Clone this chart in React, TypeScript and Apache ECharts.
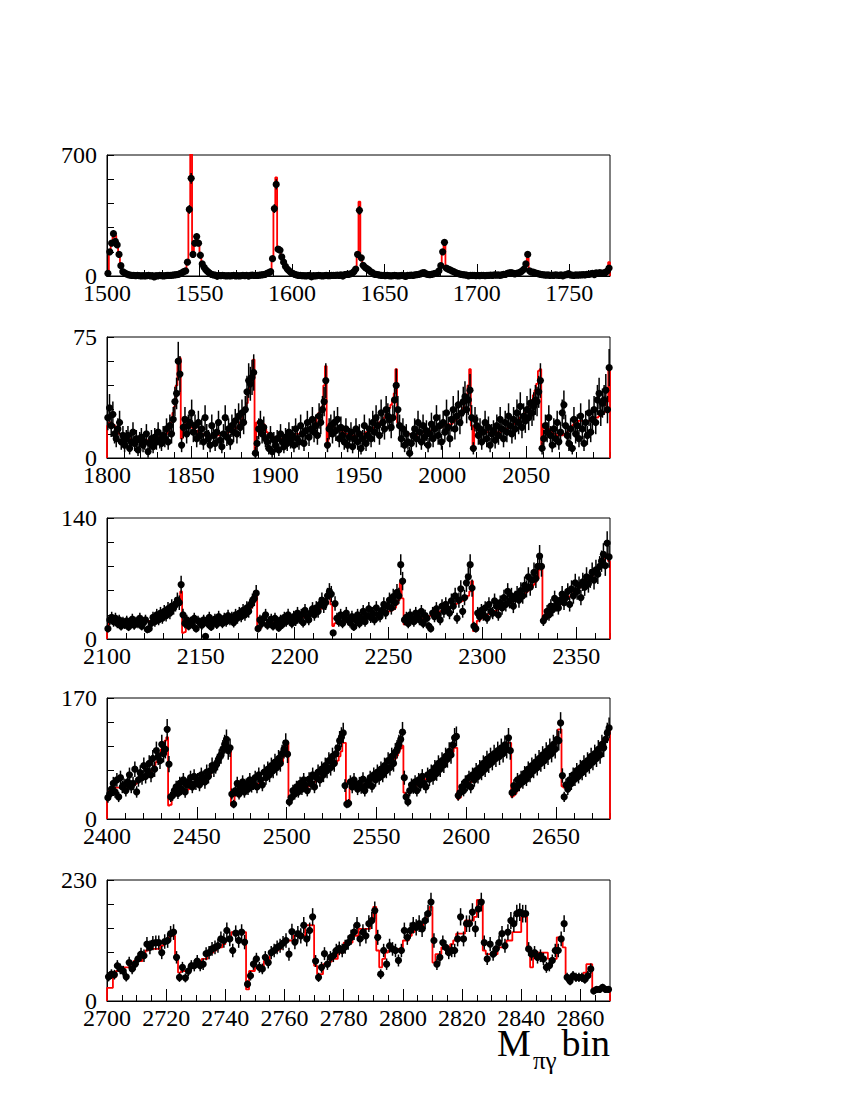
import React, { useEffect, useRef } from "react";
import * as echarts from "echarts";

// ---------- Panel 1: bins 1500..1771 ----------
const p1Data = [
  15, 140, 190, 245, 200, 180, 125, 60, 30, 18,
  12, 8, 5, 4, 3, 2, 3, 2, 1, 2,
  1, 2, 3, 1, 2, 0, 2, 1, 3, 2,
  1, 2, 3, 4, 3, 5, 6, 8, 10, 14,
  18, 25, 35, 80, 385, 565, 125, 190, 228, 190,
  120, 70, 50, 35, 25, 16, 10, 7, 5, 4,
  3, 2, 3, 2, 1, 2, 1, 2, 3, 1,
  2, 1, 2, 3, 2, 3, 4, 3, 5, 4,
  3, 4, 5, 6, 8, 10, 15, 20, 25, 100,
  390, 530, 155, 155, 110, 80, 55, 40, 30, 20,
  15, 10, 6, 4, 3, 2, 2, 1, 2, 3,
  1, 2, 1, 2, 3, 2, 1, 2, 3, 2,
  2, 3, 4, 3, 5, 4, 6, 5, 8, 10,
  10, 12, 15, 25, 40, 125, 380, 105, 62, 50,
  42, 35, 25, 20, 15, 10, 8, 5, 4, 3,
  2, 3, 2, 1, 2, 3, 2, 1, 2, 3,
  2, 3, 4, 3, 5, 4, 6, 8, 10, 12,
  18, 20, 12, 10, 8, 10, 12, 15, 20, 30,
  60, 140, 195, 45, 40, 35, 30, 25, 20, 15,
  12, 10, 8, 6, 5, 4, 3, 4, 3, 2,
  3, 2, 4, 3, 2, 3, 4, 5, 4, 6,
  5, 6, 8, 7, 9, 10, 15, 18, 20, 16,
  12, 15, 18, 22, 30, 40, 70, 125, 30, 25,
  22, 18, 15, 12, 10, 8, 6, 5, 6, 4,
  5, 4, 6, 5, 4, 6, 5, 7, 8, 14,
  6, 5, 4, 6, 5, 7, 6, 8, 7, 9,
  10, 12, 15, 12, 18, 15, 20, 15, 18, 20,
  28, 46,
];
const p1Fit = [
  30, 130, 190, 225, 235, 200, 130, 60, 30, 15,
  8, 5, 3, 2, 2, 2, 2, 2, 2, 2,
  2, 2, 2, 2, 2, 2, 2, 2, 2, 2,
  2, 2, 3, 3, 3, 4, 5, 7, 9, 12,
  16, 22, 32, 80, 400, 760, 110, 200, 215, 200,
  120, 75, 50, 35, 25, 18, 12, 8, 5, 4,
  3, 2, 2, 2, 2, 2, 2, 2, 2, 2,
  2, 2, 2, 2, 3, 3, 3, 4, 4, 4,
  4, 4, 5, 6, 7, 9, 12, 16, 22, 100,
  400, 570, 150, 150, 110, 80, 55, 40, 28, 20,
  14, 10, 6, 4, 3, 2, 2, 2, 2, 2,
  2, 2, 2, 2, 2, 2, 2, 2, 2, 2,
  2, 3, 3, 3, 4, 4, 5, 6, 7, 8,
  10, 12, 15, 22, 40, 110, 430, 110, 65, 50,
  40, 30, 22, 15, 10, 7, 5, 4, 3, 2,
  2, 2, 2, 2, 2, 2, 2, 2, 2, 2,
  2, 3, 3, 3, 4, 4, 5, 6, 8, 10,
  14, 16, 12, 10, 9, 10, 11, 14, 18, 28,
  60, 140, 185, 45, 40, 34, 28, 22, 18, 14,
  11, 9, 7, 5, 4, 3, 3, 3, 3, 3,
  3, 3, 3, 3, 3, 3, 4, 4, 5, 5,
  6, 6, 7, 8, 9, 10, 13, 15, 17, 15,
  13, 15, 18, 22, 30, 40, 70, 105, 30, 24,
  20, 16, 13, 10, 8, 7, 6, 5, 5, 5,
  5, 5, 5, 5, 5, 5, 5, 6, 6, 7,
  6, 6, 6, 6, 6, 7, 7, 7, 8, 8,
  9, 10, 11, 12, 13, 14, 15, 16, 17, 20,
  40, 80,
];

// ---------- Panel 2: bins 1800..2099 ----------
const p2Data = [
  25, 31, 20, 27, 15, 12, 18, 22, 10, 14,
  8, 12, 14, 6, 10, 16, 9, 12, 5, 11,
  13, 8, 10, 15, 4, 9, 12, 7, 13, 10,
  16, 11, 9, 14, 12, 18, 10, 20, 15, 24,
  35, 40, 60, 52, 8, 19, 24, 15, 20, 22,
  28, 16, 20, 12, 22, 14, 18, 10, 25, 15,
  12, 8, 20, 14, 9, 16, 22, 11, 7, 15,
  25, 13, 18, 10, 20, 16, 23, 15, 26, 19,
  28, 22, 30, 41, 48, 46, 50, 53, 3, 9,
  18, 22, 15, 19, 12, 10, 6, 14, 4, 11,
  8, 12, 5, 15, 10, 7, 13, 9, 16, 11,
  14, 8, 18, 12, 10, 20, 15, 9, 17, 22,
  13, 18, 24, 16, 20, 14, 26, 22, 30, 35,
  48, 8, 18, 20, 15, 22, 17, 24, 12, 19,
  14, 10, 18, 8, 13, 16, 7, 12, 18, 10,
  15, 6, 12, 20, 9, 14, 18, 12, 22, 16,
  25, 20, 14, 28, 22, 18, 30, 26, 24, 19,
  25, 36, 45, 30, 20, 12, 18, 8, 15, 10,
  3, 9, 14, 18, 12, 22, 16, 10, 20, 13,
  17, 8, 15, 21, 12, 18, 25, 14, 20, 10,
  22, 16, 28, 19, 12, 24, 30, 18, 26, 33,
  22, 28, 35, 38, 30, 36, 42, 25, 6, 24,
  20, 14, 18, 10, 16, 22, 12, 19, 8, 15,
  17, 11, 20, 14, 24, 18, 12, 22, 16, 26,
  20, 15, 24, 18, 28, 22, 32, 19, 26, 23,
  30, 25, 34, 28, 32, 36, 35, 41, 48, 6,
  12, 20, 16, 25, 14, 8, 18, 12, 22, 10,
  16, 28, 33, 20, 14, 9, 18, 6, 24, 15,
  20, 12, 26, 18, 9, 22, 14, 28, 16, 24,
  30, 22, 36, 40, 28, 34, 36, 42, 30, 56,
];
const p2Fit = [
  20, 22, 22, 21, 20, 18, 17, 15, 14, 13,
  12, 12, 12, 12, 11, 11, 10, 10, 10, 11,
  11, 11, 10, 10, 11, 11, 12, 12, 12, 12,
  13, 13, 13, 14, 14, 15, 16, 18, 22, 28,
  32, 45, 60, 62, 12, 20, 22, 22, 20, 20,
  19, 18, 17, 17, 16, 16, 15, 15, 14, 14,
  14, 13, 13, 13, 13, 14, 14, 14, 15, 15,
  15, 15, 16, 16, 17, 17, 18, 19, 20, 22,
  24, 27, 30, 34, 40, 46, 53, 61, 5, 22,
  23, 23, 22, 21, 18, 16, 15, 14, 13, 13,
  12, 12, 12, 12, 12, 12, 13, 13, 13, 14,
  14, 14, 15, 15, 15, 16, 16, 16, 17, 17,
  17, 18, 19, 20, 22, 25, 28, 30, 32, 45,
  57, 10, 20, 20, 19, 19, 18, 18, 17, 17,
  16, 16, 15, 15, 15, 15, 14, 14, 14, 14,
  15, 15, 15, 15, 16, 16, 17, 17, 18, 19,
  20, 21, 22, 23, 24, 25, 27, 29, 31, 33,
  36, 40, 55, 22, 20, 18, 17, 16, 16, 15,
  15, 15, 14, 14, 14, 15, 15, 15, 16, 16,
  16, 17, 17, 17, 18, 18, 18, 19, 19, 19,
  20, 20, 20, 21, 21, 21, 22, 23, 24, 25,
  27, 29, 31, 34, 38, 45, 55, 20, 8, 20,
  19, 18, 18, 17, 17, 16, 16, 16, 15, 15,
  15, 15, 16, 16, 16, 17, 17, 18, 18, 19,
  20, 20, 21, 22, 23, 24, 25, 26, 27, 28,
  30, 32, 34, 36, 39, 42, 46, 54, 55, 6,
  21, 21, 20, 18, 17, 16, 15, 15, 14, 14,
  14, 14, 15, 15, 16, 17, 18, 20, 21, 22,
  22, 23, 23, 23, 22, 22, 23, 23, 24, 24,
  25, 25, 25, 26, 26, 27, 28, 30, 35, 57,
];

// ---------- Panel 3: bins 2100..2367 ----------
const p3Data = [
  12, 22, 25, 20, 24, 18, 22, 15, 20, 17,
  21, 14, 19, 23, 16, 20, 18, 24, 15, 19,
  22, 11, 12, 18, 25, 20, 28, 22, 30, 24,
  32, 27, 35, 30, 38, 36, 40, 45, 42, 63,
  28, 18, 22, 15, 20, 17, 24, 12, 21, 19,
  16, 22, 3, 18, 25, 14, 20, 23, 17, 26,
  21, 18, 24, 20, 27, 22, 25, 19, 28, 24,
  30, 26, 33, 28, 36, 32, 40, 44, 47, 53,
  12, 22, 18, 24, 28, 16, 20, 23, 15, 24,
  19, 13, 22, 17, 25, 20, 28, 22, 18, 26,
  21, 30, 24, 28, 19, 33, 26, 22, 30, 35,
  28, 36, 32, 40, 45, 38, 42, 50, 55, 52,
  7, 41, 24, 20, 28, 18, 25, 30, 22, 19,
  26, 14, 22, 28, 18, 24, 32, 20, 27, 35,
  25, 30, 22, 36, 28, 26, 33, 40, 30, 38,
  45, 36, 49, 42, 54, 50, 86, 67, 22, 25,
  18, 28, 24, 20, 30, 26, 22, 32, 18, 27,
  24, 15, 12, 30, 26, 35, 28, 22, 38, 32,
  40, 35, 30, 44, 38, 50, 24, 45, 58, 32,
  48, 65, 72, 86, 59, 15, 12, 30, 26, 33,
  28, 36, 24, 40, 32, 30, 44, 38, 28, 42,
  36, 48, 40, 55, 44, 50, 38, 47, 52, 45,
  56, 50, 62, 58, 72, 60, 68, 77, 70, 84,
  96, 84, 21, 25, 32, 28, 38, 34, 47, 40,
  36, 45, 52, 42, 48, 55, 40, 58, 50, 65,
  55, 62, 48, 66, 60, 72, 64, 70, 77, 68,
  80, 75, 84, 90, 98, 85, 111, 95,
];
const p3Fit = [
  10, 22, 22, 21, 20, 19, 18, 18, 18, 17,
  17, 17, 17, 17, 18, 18, 18, 18, 19, 19,
  20, 20, 21, 21, 22, 22, 23, 24, 25, 26,
  28, 30, 32, 34, 36, 38, 40, 42, 45, 55,
  7, 8, 22, 22, 21, 21, 20, 20, 20, 19,
  19, 18, 18, 18, 18, 18, 19, 19, 19, 20,
  20, 20, 21, 21, 22, 22, 23, 24, 24, 25,
  26, 27, 28, 30, 31, 33, 35, 38, 45, 53,
  12, 12, 17, 18, 18, 18, 18, 19, 19, 19,
  20, 20, 20, 21, 21, 21, 22, 22, 22, 23,
  23, 24, 24, 25, 25, 26, 27, 27, 28, 29,
  30, 31, 32, 34, 36, 38, 42, 48, 57, 40,
  15, 18, 19, 19, 20, 20, 20, 20, 21, 21,
  21, 22, 22, 22, 23, 23, 24, 25, 25, 26,
  27, 28, 28, 29, 29, 30, 30, 31, 31, 32,
  32, 33, 34, 36, 40, 45, 65, 47, 17, 17,
  20, 21, 21, 22, 22, 23, 23, 24, 24, 25,
  26, 26, 27, 28, 29, 30, 31, 32, 33, 34,
  35, 36, 37, 38, 39, 40, 41, 42, 43, 44,
  45, 47, 50, 55, 67, 9, 9, 21, 22, 24,
  26, 27, 28, 29, 30, 31, 32, 33, 35, 36,
  37, 38, 40, 41, 42, 43, 44, 45, 46, 48,
  50, 51, 52, 54, 56, 58, 60, 63, 66, 70,
  80, 84, 21, 25, 28, 30, 32, 33, 35, 36,
  38, 40, 42, 44, 45, 47, 49, 51, 53, 55,
  57, 59, 61, 63, 65, 67, 69, 71, 73, 75,
  78, 80, 83, 86, 90, 95, 98, 90,
];

// ---------- Panel 4: bins 2400..2679 ----------
const p4Data = [
  30, 35, 42, 50, 38, 55, 31, 58, 45, 48,
  40, 52, 62, 45, 50, 70, 38, 55, 65, 58,
  75, 60, 68, 78, 62, 85, 70, 96, 88, 82,
  105, 92, 98, 126, 77, 31, 33, 40, 45, 36,
  50, 42, 55, 38, 48, 52, 58, 45, 60, 50,
  55, 48, 62, 58, 52, 66, 60, 68, 75, 70,
  75, 80, 86, 90, 98, 105, 112, 96, 100, 35,
  21, 40, 50, 35, 44, 52, 38, 48, 42, 55,
  46, 50, 58, 45, 62, 55, 48, 66, 58, 70,
  62, 75, 68, 80, 72, 85, 78, 92, 98, 107,
  91, 24, 30, 40, 35, 45, 38, 50, 42, 55,
  48, 40, 56, 50, 62, 45, 58, 66, 55, 70,
  62, 75, 68, 82, 72, 88, 78, 92, 100, 110,
  115, 121, 47, 21, 22, 52, 45, 55, 48, 42,
  50, 44, 56, 40, 48, 52, 58, 46, 62, 55,
  66, 58, 70, 62, 75, 68, 82, 72, 88, 78,
  94, 98, 105, 112, 122, 58, 31, 24, 40, 48,
  44, 52, 40, 55, 48, 60, 50, 45, 62, 56,
  66, 58, 72, 64, 78, 70, 82, 76, 88, 84,
  95, 90, 104, 114, 116, 33, 37, 45, 40, 52,
  48, 58, 45, 62, 55, 68, 60, 72, 65, 78,
  70, 84, 76, 88, 80, 92, 85, 96, 88, 100,
  92, 104, 98, 114, 96, 37, 47, 42, 55, 48,
  58, 52, 64, 56, 70, 62, 75, 68, 80, 72,
  85, 78, 90, 82, 95, 88, 100, 92, 105, 98,
  112, 110, 135, 61, 31, 48, 42, 55, 50, 62,
  56, 68, 60, 72, 65, 78, 70, 82, 75, 88,
  80, 92, 85, 98, 90, 105, 100, 112, 121, 128,
];
const p4Fit = [
  27, 40, 42, 43, 44, 44, 44, 45, 45, 45,
  45, 46, 46, 46, 47, 48, 50, 52, 54, 56,
  57, 58, 60, 63, 66, 70, 75, 80, 86, 92,
  98, 104, 110, 115, 19, 20, 33, 35, 36, 37,
  37, 38, 38, 39, 40, 42, 44, 45, 46, 47,
  48, 50, 52, 54, 56, 58, 60, 63, 66, 70,
  75, 80, 85, 90, 95, 98, 100, 102, 102, 19,
  20, 33, 35, 37, 38, 39, 40, 41, 42, 43,
  44, 45, 46, 48, 50, 52, 54, 56, 58, 60,
  62, 64, 66, 68, 70, 73, 76, 80, 88, 100,
  107, 30, 30, 37, 38, 39, 40, 41, 42, 43,
  44, 45, 46, 48, 50, 52, 54, 56, 58, 60,
  62, 64, 66, 68, 70, 72, 75, 78, 82, 88,
  95, 107, 107, 20, 25, 45, 46, 46, 47, 47,
  48, 48, 48, 49, 50, 51, 53, 55, 57, 59,
  61, 63, 65, 67, 69, 71, 73, 75, 78, 81,
  85, 89, 94, 99, 103, 37, 33, 33, 42, 44,
  45, 46, 47, 48, 50, 52, 54, 56, 58, 60,
  61, 62, 64, 66, 68, 70, 72, 75, 78, 81,
  85, 89, 94, 100, 100, 28, 30, 40, 42, 45,
  47, 50, 52, 55, 57, 60, 62, 65, 67, 70,
  71, 72, 74, 76, 78, 80, 82, 84, 86, 88,
  90, 92, 94, 107, 107, 31, 33, 36, 40, 44,
  48, 52, 55, 58, 61, 64, 67, 70, 72, 75,
  78, 80, 83, 86, 89, 92, 95, 98, 101, 105,
  110, 126, 126, 46, 44, 48, 50, 52, 55, 58,
  61, 64, 67, 70, 73, 76, 79, 82, 85, 88,
  91, 94, 97, 100, 103, 106, 110, 115, 120, 125,
];

// ---------- Panel 5: bins 2700..2869 ----------
const p5Data = [
  46, 51, 50, 67, 61, 57, 46, 73, 61, 70,
  80, 89, 86, 108, 102, 110, 111, 111, 92, 113,
  115, 128, 131, 83, 45, 64, 44, 57, 67, 67,
  76, 67, 70, 90, 92, 99, 102, 105, 118, 115,
  134, 118, 96, 129, 115, 131, 112, 32, 48, 70,
  80, 64, 61, 83, 73, 92, 96, 102, 105, 110,
  115, 89, 132, 112, 128, 124, 144, 118, 134, 160,
  76, 45, 64, 90, 70, 83, 86, 96, 100, 96,
  103, 111, 121, 131, 144, 118, 131, 124, 147, 153,
  172, 121, 51, 96, 70, 105, 99, 96, 77, 96,
  134, 121, 134, 144, 140, 147, 137, 153, 166, 188,
  115, 70, 83, 111, 102, 92, 96, 96, 118, 160,
  118, 147, 147, 169, 137, 175, 188, 111, 80, 108,
  89, 99, 111, 128, 105, 131, 153, 147, 166, 169,
  166, 166, 99, 89, 92, 83, 86, 80, 64, 67,
  77, 96, 96, 118, 147, 45, 38, 48, 45, 45,
  45, 41, 48, 61, 19, 22, 22, 26, 22, 22,
];
const p5Fit = [
  25, 25, 45, 57, 57, 64, 64, 64, 70, 76,
  76, 76, 90, 96, 99, 99, 99, 99, 105, 115,
  115, 124, 124, 83, 54, 57, 57, 60, 67, 67,
  67, 72, 80, 80, 92, 92, 96, 102, 102, 108,
  115, 115, 131, 131, 131, 131, 131, 22, 57, 57,
  64, 64, 64, 76, 76, 89, 92, 96, 99, 110,
  115, 115, 115, 124, 124, 124, 124, 144, 144, 144,
  67, 51, 51, 70, 72, 75, 80, 80, 92, 92,
  111, 111, 111, 124, 124, 137, 137, 137, 137, 156,
  179, 96, 64, 80, 92, 96, 96, 99, 99, 99,
  115, 115, 124, 131, 137, 144, 144, 153, 166, 179,
  73, 89, 89, 102, 102, 102, 108, 115, 128, 128,
  128, 153, 153, 153, 160, 192, 192, 96, 89, 89,
  89, 89, 102, 102, 102, 115, 115, 131, 131, 131,
  160, 160, 99, 64, 92, 92, 92, 92, 92, 80,
  80, 80, 121, 121, 102, 45, 45, 45, 45, 45,
  45, 54, 70, 70, 22, 22, 22, 22, 22, 22,
];

// axis settings per panel
const panelStart = [1500, 1800, 2100, 2400, 2700];
const panelYMax = [700, 75, 140, 170, 230];
const majorStep = [50, 50, 50, 50, 20];
const minorStep = [10, 10, 10, 10, 5];
const errorScale = [1.3, 1.55, 1.3, 1.3, 1.3];
const panelData = [p1Data, p2Data, p3Data, p4Data, p5Data];
const panelFit = [p1Fit, p2Fit, p3Fit, p4Fit, p5Fit];

// layout
const gridTops = [155, 337, 518, 698, 880];
const GRID_LEFT = 107;
const GRID_WIDTH = 503;
const GRID_HEIGHT = 121;
const FONT = "Liberation Serif";

function buildOption() {
  const grid: any[] = [];
  const xAxis: any[] = [];
  const yAxis: any[] = [];
  const series: any[] = [];

  for (let p = 0; p < 5; p++) {
    const start = panelStart[p];
    const data = panelData[p];
    const fit = panelFit[p];
    const end = start + fit.length;
    const yMax = panelYMax[p];

    grid.push({
      left: GRID_LEFT,
      top: gridTops[p],
      width: GRID_WIDTH,
      height: GRID_HEIGHT,
      show: true,
      borderColor: "#000",
      borderWidth: 1,
      backgroundColor: "transparent",
    });

    xAxis.push({
      type: "value",
      gridIndex: p,
      min: start,
      max: end,
      interval: majorStep[p],
      position: "bottom",
      axisLine: { show: true, onZero: false, lineStyle: { color: "#000", width: 1 } },
      axisTick: { show: true, inside: true, length: 12, lineStyle: { color: "#000", width: 1 } },
      axisLabel: {
        show: true,
        showMaxLabel: false,
        margin: 8,
        lineHeight: 17,
        formatter: (v: number) => String(v),
        fontFamily: FONT,
        fontSize: 24,
        color: "#000",
      },
      splitLine: { show: false },
    });
    xAxis.push({
      type: "value",
      gridIndex: p,
      min: start,
      max: end,
      interval: minorStep[p],
      position: "bottom",
      axisLine: { show: false },
      axisTick: { show: true, inside: true, length: 6, lineStyle: { color: "#000", width: 1 } },
      axisLabel: { show: false },
      splitLine: { show: false },
    });

    yAxis.push({
      type: "value",
      gridIndex: p,
      min: 0,
      max: yMax,
      interval: yMax / 5,
      axisLine: { show: true, onZero: false, lineStyle: { color: "#000", width: 1 } },
      axisTick: { show: true, inside: true, length: 7, lineStyle: { color: "#000", width: 1 } },
      axisLabel: {
        show: true,
        margin: 10,
        lineHeight: 15,
        formatter: (v: number) => (v === 0 || v === yMax ? String(v) : ""),
        fontFamily: FONT,
        fontSize: 24,
        color: "#000",
      },
      splitLine: { show: false },
    });

    // red step histogram
    const stepPts: number[][] = [[start, 0]];
    fit.forEach((v, i) => {
      stepPts.push([start + i, v]);
      stepPts.push([start + i + 1, v]);
    });
    stepPts.push([end, 0]);
    series.push({
      type: "line",
      xAxisIndex: 2 * p,
      yAxisIndex: p,
      data: stepPts,
      symbol: "none",
      clip: true,
      lineStyle: { color: "#ff0000", width: 1.8 },
      z: 2,
      silent: true,
    });

    // data points with error bars
    const pts = data.map((v, i) => [
      start + i + 0.5,
      v,
      errorScale[p] * Math.sqrt(Math.max(v, 6)),
    ]);
    series.push({
      type: "custom",
      xAxisIndex: 2 * p,
      yAxisIndex: p,
      data: pts,
      encode: { x: 0, y: 1 },
      z: 3,
      silent: true,
      renderItem: (params: any, api: any) => {
        const x = api.value(0);
        const y = api.value(1);
        const e = api.value(2);
        const c = api.coord([x, y]);
        const hi = api.coord([x, Math.min(yMax, y + e)]);
        const lo = api.coord([x, Math.max(0, y - e)]);
        return {
          type: "group",
          children: [
            {
              type: "line",
              shape: { x1: c[0], y1: lo[1], x2: c[0], y2: hi[1] },
              style: { stroke: "#000", lineWidth: 1.5 },
            },
            {
              type: "circle",
              shape: { cx: c[0], cy: c[1], r: 3.6 },
              style: { fill: "#000" },
            },
          ],
        };
      },
    });
  }

  return {
    animation: false,
    backgroundColor: "#fff",
    grid,
    xAxis,
    yAxis,
    series,
    graphic: [
      {
        type: "text",
        left: 497,
        top: 1024,
        style: { text: "M", fontFamily: FONT, fontSize: 38, fill: "#000" },
      },
      {
        type: "text",
        left: 533,
        top: 1048,
        style: { text: "πγ", fontFamily: FONT, fontSize: 25, lineHeight: 20, fill: "#000" },
      },
      {
        type: "text",
        right: 240,
        top: 1024,
        style: { text: "bin", fontFamily: FONT, fontSize: 38, fill: "#000" },
      },
    ],
  };
}

export default function App() {
  const ref = useRef<HTMLDivElement>(null);
  useEffect(() => {
    if (!ref.current) return;
    const chart = echarts.init(ref.current, undefined, { renderer: "svg" });
    chart.setOption(buildOption() as any);
    return () => chart.dispose();
  }, []);
  return (
    <div
      ref={ref}
      style={{ position: "absolute", left: 0, top: 0, width: 850, height: 1100 }}
    />
  );
}
